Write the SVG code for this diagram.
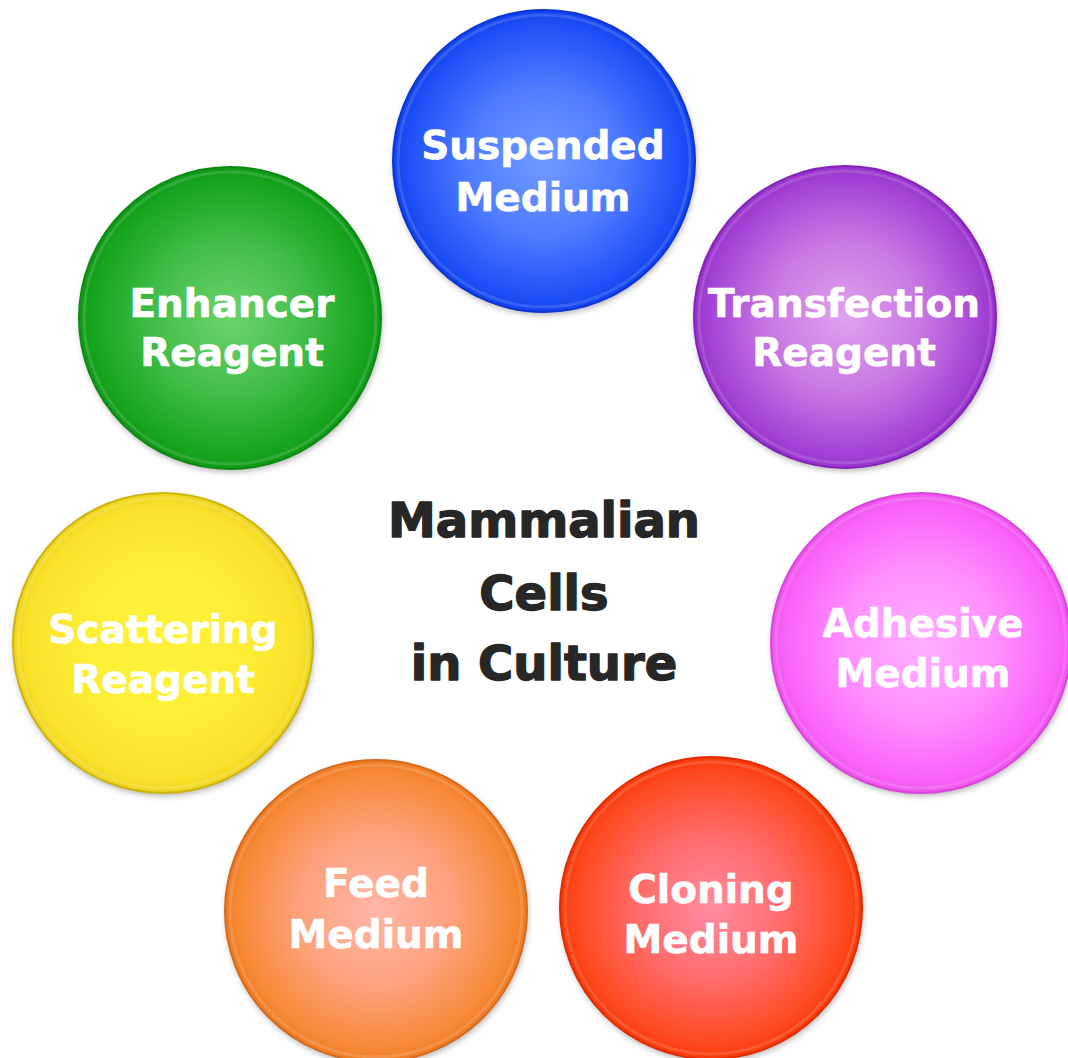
<svg xmlns="http://www.w3.org/2000/svg" width="1068" height="1058" viewBox="0 0 1068 1058">
<style>
.lbl{font-family:"DejaVu Sans","Verdana",sans-serif;font-weight:bold;font-size:39px;fill:#ffffff;stroke:#ffffff;stroke-width:0.6;text-anchor:middle}
.title{font-family:"DejaVu Sans","Verdana",sans-serif;font-weight:bold;font-size:48px;fill:#272727;stroke:#272727;stroke-width:1.4;stroke-linejoin:round;text-anchor:middle}
.rim{fill:none;stroke:#ffffff;stroke-opacity:0.14;stroke-width:3}
</style>
<defs>
<filter id="sh" x="-20%" y="-20%" width="140%" height="140%">
<feGaussianBlur stdDeviation="3"/>
</filter>
<radialGradient id="gBlue" cx="0.5" cy="0.5" r="0.5"><stop offset="0" stop-color="#7099ff"/><stop offset="0.5" stop-color="#4f7cff"/><stop offset="0.9" stop-color="#1f51f8"/><stop offset="1" stop-color="#1244ee"/></radialGradient>
<radialGradient id="gPurple" cx="0.5" cy="0.5" r="0.5"><stop offset="0" stop-color="#dfa2ee"/><stop offset="0.5" stop-color="#c878e2"/><stop offset="0.9" stop-color="#a544d6"/><stop offset="1" stop-color="#9733cb"/></radialGradient>
<radialGradient id="gMagenta" cx="0.5" cy="0.5" r="0.5"><stop offset="0" stop-color="#ffb0ff"/><stop offset="0.5" stop-color="#ff90ff"/><stop offset="0.9" stop-color="#f964f9"/><stop offset="1" stop-color="#ef54ef"/></radialGradient>
<radialGradient id="gRed" cx="0.5" cy="0.5" r="0.5"><stop offset="0" stop-color="#ff8ca2"/><stop offset="0.5" stop-color="#ff6a68"/><stop offset="0.9" stop-color="#ff4a1e"/><stop offset="1" stop-color="#f83a0a"/></radialGradient>
<radialGradient id="gOrange" cx="0.5" cy="0.5" r="0.5"><stop offset="0" stop-color="#ffb6a8"/><stop offset="0.5" stop-color="#fca27e"/><stop offset="0.9" stop-color="#f78a38"/><stop offset="1" stop-color="#ef7c24"/></radialGradient>
<radialGradient id="gYellow" cx="0.5" cy="0.5" r="0.5"><stop offset="0" stop-color="#fff33a"/><stop offset="0.5" stop-color="#fdef36"/><stop offset="0.9" stop-color="#f9e32a"/><stop offset="1" stop-color="#efd41c"/></radialGradient>
<radialGradient id="gGreen" cx="0.5" cy="0.5" r="0.5"><stop offset="0" stop-color="#6cd36c"/><stop offset="0.5" stop-color="#42be48"/><stop offset="0.9" stop-color="#18a620"/><stop offset="1" stop-color="#0f9a17"/></radialGradient>
</defs>

<g id="connectors"></g>

<g id="node-suspended">
<circle cx="545" cy="164" r="151" fill="#000" opacity="0.3" filter="url(#sh)"/>
<circle cx="544" cy="161" r="151" fill="url(#gBlue)" stroke="#0c34d4" stroke-width="2"/>
<circle class="rim" cx="544" cy="161" r="146"/>
<text class="lbl" x="543" y="159">Suspended</text>
<text class="lbl" x="543" y="211">Medium</text>
</g>

<g id="node-transfection">
<circle cx="846" cy="320" r="151" fill="#000" opacity="0.3" filter="url(#sh)"/>
<circle cx="845" cy="317" r="151" fill="url(#gPurple)" stroke="#8522bb" stroke-width="2"/>
<circle class="rim" cx="845" cy="317" r="146"/>
<text class="lbl" x="844" y="317">Transfection</text>
<text class="lbl" x="844" y="366">Reagent</text>
</g>

<g id="node-adhesive">
<circle cx="922" cy="646" r="150" fill="#000" opacity="0.3" filter="url(#sh)"/>
<circle cx="921" cy="643" r="150" fill="url(#gMagenta)" stroke="#dc44dc" stroke-width="2"/>
<circle class="rim" cx="921" cy="643" r="145"/>
<text class="lbl" x="923" y="637">Adhesive</text>
<text class="lbl" x="923" y="687">Medium</text>
</g>

<g id="node-cloning">
<circle cx="712" cy="911" r="151" fill="#000" opacity="0.3" filter="url(#sh)"/>
<circle cx="711" cy="908" r="151" fill="url(#gRed)" stroke="#e02c00" stroke-width="2"/>
<circle class="rim" cx="711" cy="908" r="146"/>
<text class="lbl" x="711" y="903">Cloning</text>
<text class="lbl" x="711" y="953">Medium</text>
</g>

<g id="node-feed">
<circle cx="377" cy="914" r="151" fill="#000" opacity="0.3" filter="url(#sh)"/>
<circle cx="376" cy="911" r="151" fill="url(#gOrange)" stroke="#d86a1c" stroke-width="2"/>
<circle class="rim" cx="376" cy="911" r="146"/>
<text class="lbl" x="376" y="897">Feed</text>
<text class="lbl" x="376" y="948">Medium</text>
</g>

<g id="node-scattering">
<circle cx="164" cy="646" r="150" fill="#000" opacity="0.3" filter="url(#sh)"/>
<circle cx="163" cy="643" r="150" fill="url(#gYellow)" stroke="#cdb40e" stroke-width="2"/>
<circle class="rim" cx="163" cy="643" r="145"/>
<text class="lbl" x="163" y="643">Scattering</text>
<text class="lbl" x="163" y="693">Reagent</text>
</g>

<g id="node-enhancer">
<circle cx="231" cy="321" r="151" fill="#000" opacity="0.3" filter="url(#sh)"/>
<circle cx="230" cy="318" r="151" fill="url(#gGreen)" stroke="#0c8a12" stroke-width="2"/>
<circle class="rim" cx="230" cy="318" r="146"/>
<text class="lbl" x="232" y="317">Enhancer</text>
<text class="lbl" x="232" y="366">Reagent</text>
</g>

<g id="node-center">
<text class="title" x="544" y="537">Mammalian</text>
<text class="title" x="544" y="610">Cells</text>
<text class="title" x="544" y="680">in Culture</text>
</g>
</svg>
